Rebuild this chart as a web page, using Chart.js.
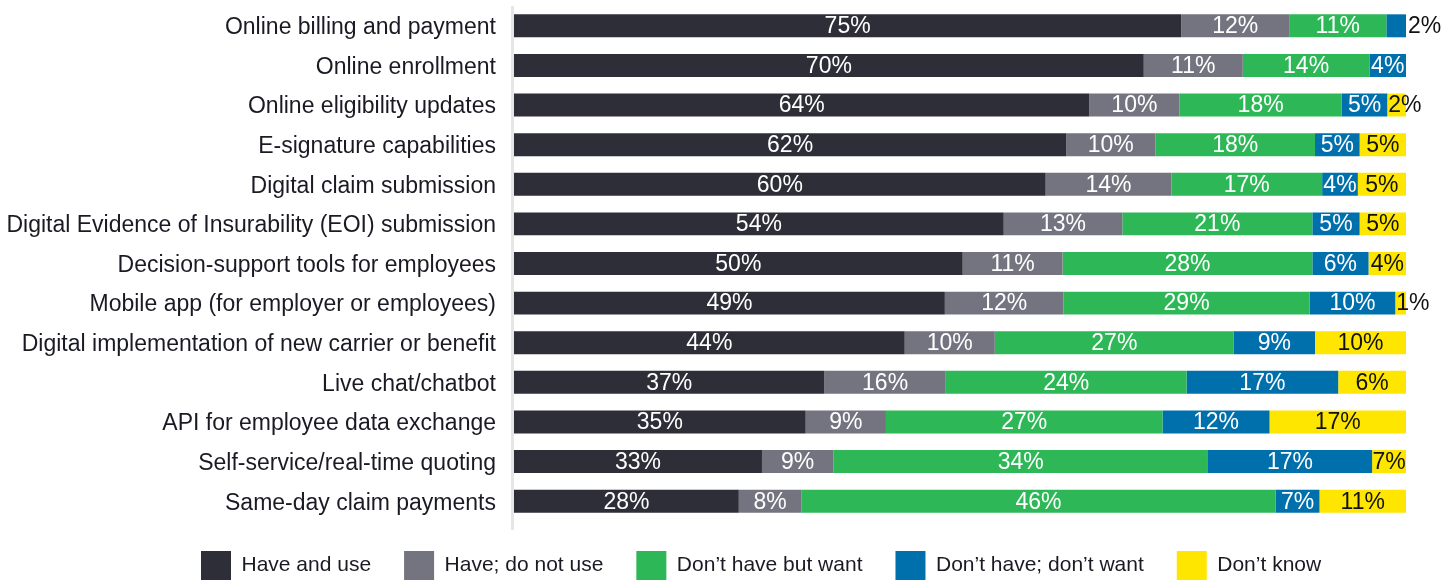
<!DOCTYPE html>
<html>
<head>
<meta charset="utf-8">
<script src="https://cdn.jsdelivr.net/npm/chart.js@4.4.1/dist/chart.umd.min.js"></script>
<style>
  html, body { margin: 0; padding: 0; background: #fff; overflow: hidden; }
  canvas { display: block; }
</style>
</head>
<body>
<canvas id="digitalChart" width="1455" height="593"></canvas>
<script>
const categories = [
  'Online billing and payment',
  'Online enrollment',
  'Online eligibility updates',
  'E-signature capabilities',
  'Digital claim submission',
  'Digital Evidence of Insurability (EOI) submission',
  'Decision-support tools for employees',
  'Mobile app (for employer or employees)',
  'Digital implementation of new carrier or benefit',
  'Live chat/chatbot',
  'API for employee data exchange',
  'Self-service/real-time quoting',
  'Same-day claim payments'
];

const seriesNames = ['Have and use', 'Have; do not use', 'Don\u2019t have but want', 'Don\u2019t have; don\u2019t want', 'Don\u2019t know'];

// bar lengths as drawn in the picture (share of the full bar)
const haveUse   = [74.8, 70.6, 64.5, 61.9, 59.6, 54.9, 50.3, 48.3, 43.8, 34.8, 32.7, 27.8, 25.2];
const haveNoUse = [12.1, 11.1, 10.1, 10.0, 14.1, 13.3, 11.2, 13.3, 10.1, 13.6, 9.0, 8.0, 7.0];
const wantIt    = [10.9, 14.2, 18.2, 17.9, 16.9, 21.3, 28.0, 27.6, 26.8, 27.0, 31.0, 42.0, 53.2];
const dontWant  = [2.2, 4.1, 5.1, 5.0, 4.0, 5.3, 6.3, 9.6, 9.1, 17.0, 12.0, 18.4, 4.9];
const dontKnow  = [0, 0, 2.1, 5.2, 5.4, 5.2, 4.2, 1.2, 10.2, 7.6, 15.3, 3.8, 9.7];

// percentages printed on the segments
const haveUseLbl   = [75, 70, 64, 62, 60, 54, 50, 49, 44, 37, 35, 33, 28];
const haveNoUseLbl = [12, 11, 10, 10, 14, 13, 11, 12, 10, 16, 9, 9, 8];
const wantItLbl    = [11, 14, 18, 18, 17, 21, 28, 29, 27, 24, 27, 34, 46];
const dontWantLbl  = [2, 4, 5, 5, 4, 5, 6, 10, 9, 17, 12, 17, 7];
const dontKnowLbl  = [null, null, 2, 5, 5, 5, 4, 1, 10, 6, 17, 7, 11];

const colors = ['#2e2e38', '#747480', '#2db757', '#0070ad', '#ffe600'];
const textColor = '#1a1a24';
const fontFamily = '"Liberation Sans", Arial, sans-serif';

const values = [haveUse, haveNoUse, wantIt, dontWant, dontKnow];
const printed = [haveUseLbl, haveNoUseLbl, wantItLbl, dontWantLbl, dontKnowLbl];

// light vertical rule at the left of the bars
const axisLine = {
  id: 'axisLine',
  beforeDatasetsDraw(chart) {
    const { ctx, chartArea } = chart;
    ctx.save();
    ctx.fillStyle = '#e6e6e6';
    ctx.fillRect(chartArea.left - 3, chartArea.top, 3, chartArea.bottom - chartArea.top + 9);
    ctx.restore();
  }
};

// legend sits under the bars, starting left of the plot
const legendPlacement = {
  id: 'legendPlacement',
  afterLayout(chart) {
    chart.legend.left = 168;
    chart.legend.top -= 3;
  }
};

// percentage labels on each segment
const segmentLabels = {
  id: 'segmentLabels',
  afterDatasetsDraw(chart) {
    const { ctx } = chart;
    ctx.save();
    ctx.font = '23px ' + fontFamily;
    ctx.textBaseline = 'middle';
    chart.data.datasets.forEach((ds, i) => {
      const meta = chart.getDatasetMeta(i);
      meta.data.forEach((bar, j) => {
        const v = printed[i][j];
        if (v == null) return;
        const { x, base, y } = bar.getProps(['x', 'base', 'y'], true);
        const w = x - base;
        const text = v + '%';
        if (w < 22) {
          ctx.fillStyle = '#111';
          ctx.textAlign = 'left';
          if (i === chart.data.datasets.length - 1) {
            ctx.fillText(text, base + 1, y + 1);
          } else {
            ctx.fillText(text, x + 2, y + 1);
          }
        } else {
          ctx.fillStyle = i === 4 ? '#111' : '#fff';
          ctx.textAlign = 'center';
          ctx.fillText(text, (x + base) / 2, y + 1);
        }
      });
    });
    ctx.restore();
  }
};

const ctx = document.getElementById('digitalChart');
new Chart(ctx, {
  type: 'bar',
  data: {
    labels: categories,
    datasets: seriesNames.map((name, i) => ({
      label: name,
      data: values[i],
      backgroundColor: colors[i],
      borderWidth: 0,
      barPercentage: 0.58,
      categoryPercentage: 1
    }))
  },
  options: {
    indexAxis: 'y',
    responsive: false,
    animation: false,
    layout: { padding: { left: 0, right: 49, top: 6, bottom: 0 } },
    scales: {
      x: { stacked: true, min: 0, max: 100, display: false },
      y: {
        stacked: true,
        grid: { display: false, drawTicks: false },
        border: { display: false },
        ticks: {
          autoSkip: false,
          padding: 18,
          labelOffset: 2,
          color: textColor,
          font: { family: fontFamily, size: 23 }
        },
        afterFit(scale) {
          scale.width = 514;
          scale.paddingTop = 0;
          scale.paddingBottom = 0;
        }
      }
    },
    plugins: {
      legend: {
        position: 'bottom',
        align: 'start',
        labels: {
          boxWidth: 30,
          boxHeight: 29,
          padding: 33,
          color: textColor,
          font: { family: fontFamily, size: 21 }
        }
      },
      tooltip: { enabled: false }
    }
  },
  plugins: [axisLine, legendPlacement, segmentLabels]
});
</script>
</body>
</html>
